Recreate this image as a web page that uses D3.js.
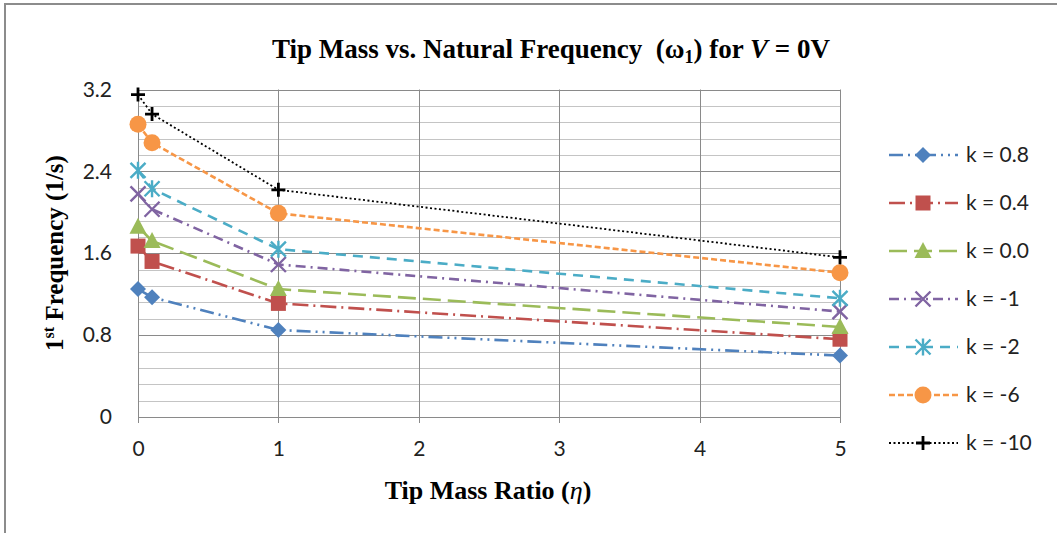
<!DOCTYPE html>
<html>
<head>
<meta charset="utf-8">
<script src="https://cdn.jsdelivr.net/npm/d3@7"></script>
<style>
  body { margin: 0; background: #fff; }
  svg { display: block; }
</style>
</head>
<body>
<div class="container"></div>
<script>
const WIDTH = 1057;
const HEIGHT = 533;

// data
var etaValues = [0, 0.1, 1, 5];
var kLabels = ["k = 0.8", "k = 0.4", "k = 0.0", "k = -1", "k = -2", "k = -6", "k = -10"];
var freqK08 = [1.25, 1.17, 0.85, 0.60];
var freqK04 = [1.67, 1.52, 1.11, 0.76];
var freqK00 = [1.86, 1.72, 1.25, 0.88];
var freqKm1 = [2.18, 2.03, 1.49, 1.03];
var freqKm2 = [2.41, 2.23, 1.64, 1.16];
var freqKm6 = [2.86, 2.68, 1.99, 1.41];
var freqKm10 = [3.15, 2.96, 2.22, 1.56];
var xTicks = [0, 1, 2, 3, 4, 5];
var yTicks = [0, 0.8, 1.6, 2.4, 3.2];

var seriesValues = [freqK08, freqK04, freqK00, freqKm1, freqKm2, freqKm6, freqKm10];
var colors = ["#4F81BD", "#C0504D", "#9BBB59", "#8064A2", "#4BACC6", "#F79646", "#000000"];
var dashes = ["14,5,2,5,2,5", "16,5,2,5", "18,7", "10,5,2,5", "10,7", "6,3", "2,2.5"];
var markers = ["diamond", "square", "triangle", "x", "star", "circle", "plus"];

var svg = d3.select(".container")
    .append("svg")
    .attr("width", WIDTH)
    .attr("height", HEIGHT);

// outer chart frame
svg.append("rect")
    .attr("x", 5).attr("y", 4)
    .attr("width", 1200).attr("height", 700)
    .attr("fill", "none")
    .attr("stroke", "#8c8c8c")
    .attr("stroke-width", 2);

var xScale = d3.scaleLinear().domain([0, 5]).range([138, 840]);
var yScale = d3.scaleLinear().domain([0, 3.2]).range([417, 89.5]);

// minor horizontal gridlines
var minor = d3.range(0, 3.2001, 0.16);
svg.append("g").selectAll("line")
    .data(minor)
    .enter().append("line")
    .attr("x1", xScale(0)).attr("x2", xScale(5))
    .attr("y1", function (d) { return Math.round(yScale(d)) + 0.5; })
    .attr("y2", function (d) { return Math.round(yScale(d)) + 0.5; })
    .attr("stroke", "#c4c4c4")
    .attr("stroke-width", 1);

// major gridlines
svg.append("g").selectAll("line")
    .data(yTicks)
    .enter().append("line")
    .attr("x1", xScale(0)).attr("x2", xScale(5))
    .attr("y1", function (d) { return Math.round(yScale(d)) + 0.5; })
    .attr("y2", function (d) { return Math.round(yScale(d)) + 0.5; })
    .attr("stroke", "#8a8a8a")
    .attr("stroke-width", 1);

svg.append("g").selectAll("line")
    .data(xTicks)
    .enter().append("line")
    .attr("x1", function (d) { return Math.round(xScale(d)) + 0.5; })
    .attr("x2", function (d) { return Math.round(xScale(d)) + 0.5; })
    .attr("y1", yScale(3.2))
    .attr("y2", yScale(0) + 6)
    .attr("stroke", "#8a8a8a")
    .attr("stroke-width", 1);

// axes labels
var xAxis = d3.axisBottom(xScale).tickValues(xTicks).tickSize(0).tickPadding(24)
    .tickFormat(d3.format("d"));
svg.append("g")
    .attr("transform", "translate(0," + yScale(0) + ")")
    .call(xAxis)
    .call(function (g) { g.select(".domain").remove(); })
    .selectAll("text")
    .attr("font-family", "Lato, 'Open Sans', sans-serif")
    .attr("font-size", 21)
    .attr("fill", "#222");

var yAxis = d3.axisLeft(yScale).tickValues(yTicks).tickSize(0).tickPadding(26)
    .tickFormat(function (d) { return d === 0 ? "0" : d3.format(".1f")(d); });
svg.append("g")
    .attr("transform", "translate(" + xScale(0) + ",0)")
    .call(yAxis)
    .call(function (g) { g.select(".domain").remove(); })
    .selectAll("text")
    .attr("font-family", "Lato, 'Open Sans', sans-serif")
    .attr("font-size", 21)
    .attr("fill", "#222");

// marker drawing
function drawMarker(g, type, color) {
    if (type === "diamond") {
        g.append("path").attr("d", "M0,-8L8,0L0,8L-8,0Z").attr("fill", color);
    } else if (type === "square") {
        g.append("rect").attr("x", -7.5).attr("y", -7.5).attr("width", 15).attr("height", 15).attr("fill", color);
    } else if (type === "triangle") {
        g.append("path").attr("d", "M0,-9L8.5,7L-8.5,7Z").attr("fill", color);
    } else if (type === "x") {
        g.append("path").attr("d", "M-7.5,-7.5L7.5,7.5M7.5,-7.5L-7.5,7.5").attr("stroke", color).attr("stroke-width", 2.4).attr("fill", "none");
    } else if (type === "star") {
        g.append("path").attr("d", "M-7.5,-7.5L7.5,7.5M7.5,-7.5L-7.5,7.5M0,-8.5L0,8.5").attr("stroke", color).attr("stroke-width", 2.4).attr("fill", "none");
    } else if (type === "circle") {
        g.append("circle").attr("r", 8.5).attr("fill", color);
    } else if (type === "plus") {
        g.append("path").attr("d", "M-7,0L7,0M0,-7L0,7").attr("stroke", color).attr("stroke-width", 2.8).attr("fill", "none");
    }
}

var line = d3.line()
    .x(function (d, i) { return xScale(etaValues[i]); })
    .y(function (d) { return yScale(d); });

seriesValues.forEach(function (vals, s) {
    svg.append("path")
        .attr("d", line(vals))
        .attr("fill", "none")
        .attr("stroke", colors[s])
        .attr("stroke-width", s === 6 ? 1.8 : 2.6)
        .attr("stroke-dasharray", dashes[s]);
});

seriesValues.forEach(function (vals, s) {
    vals.forEach(function (v, i) {
        var g = svg.append("g")
            .attr("transform", "translate(" + xScale(etaValues[i]) + "," + yScale(v) + ")");
        drawMarker(g, markers[s], colors[s]);
    });
});

// legend
var legendY = d3.scaleLinear().domain([0, 6]).range([155, 443]);
kLabels.forEach(function (label, s) {
    var y = legendY(s);
    svg.append("line")
        .attr("x1", 889).attr("x2", 958)
        .attr("y1", y).attr("y2", y)
        .attr("stroke", colors[s])
        .attr("stroke-width", s === 6 ? 1.8 : 2.6)
        .attr("stroke-dasharray", dashes[s]);
    var g = svg.append("g").attr("transform", "translate(923," + y + ")");
    drawMarker(g, markers[s], colors[s]);
    svg.append("text")
        .attr("x", 966).attr("y", y)
        .attr("dy", "0.35em")
        .attr("font-family", "Lato, 'Open Sans', sans-serif")
        .attr("font-size", 21)
        .attr("fill", "#222")
        .text(label);
});

// title
var title = svg.append("text")
    .attr("x", 551).attr("y", 58)
    .attr("text-anchor", "middle")
    .attr("font-family", "'Liberation Serif', 'Times New Roman', serif")
    .attr("font-weight", "bold")
    .attr("font-size", 27)
    .attr("fill", "#000");
title.append("tspan").text("Tip Mass vs. Natural Frequency \u00a0(\u03c9");
title.append("tspan").attr("font-size", 18).attr("dy", 5).text("1");
title.append("tspan").attr("dy", -5).text(") for ");
title.append("tspan").attr("font-style", "italic").text("V");
title.append("tspan").text(" = 0V");

// x axis title
var xt = svg.append("text")
    .attr("x", 488).attr("y", 499)
    .attr("text-anchor", "middle")
    .attr("font-family", "'Liberation Serif', 'Times New Roman', serif")
    .attr("font-weight", "bold")
    .attr("font-size", 26)
    .attr("fill", "#000");
xt.append("tspan").text("Tip Mass Ratio (");
xt.append("tspan").attr("font-style", "italic").attr("font-weight", "normal").text("\u03b7");
xt.append("tspan").text(")");

// y axis title
var yt = svg.append("text")
    .attr("transform", "translate(63,253) rotate(-90)")
    .attr("text-anchor", "middle")
    .attr("font-family", "'Liberation Serif', 'Times New Roman', serif")
    .attr("font-weight", "bold")
    .attr("font-size", 25)
    .attr("fill", "#000");
yt.append("tspan").text("1");
yt.append("tspan").attr("font-size", 16).attr("dy", -9).text("st");
yt.append("tspan").attr("dy", 9).text(" Frequency (1/s)");
</script>
</body>
</html>
